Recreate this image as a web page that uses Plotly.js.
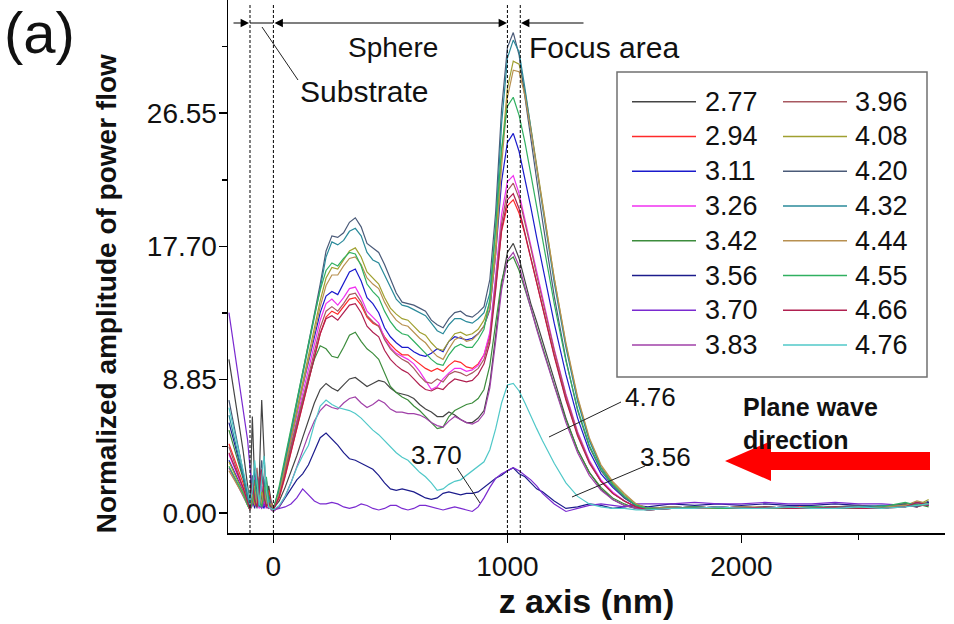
<!DOCTYPE html>
<html>
<head>
<meta charset="utf-8">
<script src="https://cdn.plot.ly/plotly-3.0.1.min.js"></script>
<style>html,body{margin:0;padding:0;background:#fff;}#chart{width:954px;height:624px;}</style>
</head>
<body>
<div id="chart"></div>
<script>
// z positions (nm)
const zAxis = [-190,-160,-130,-110,-100,-90,-80,-70,-60,-50,-40,-30,-20,-10,0,
  25,50,75,100,125,150,175,200,225,250,275,300,325,350,375,400,425,450,475,500,525,550,575,600,625,650,675,700,725,750,775,800,825,850,875,900,
  925,950,975,1000,1025,1050,1075,1100,1125,1150,1200,1250,1300,1350,1400,1450,1500,1550,1600,
  1700,1800,1900,2000,2100,2200,2300,2400,2500,2600,2700,2750,2800];

const seriesNames = ['2.77','2.94','3.11','3.26','3.42','3.56','3.70','3.83','3.96','4.08','4.20','4.32','4.44','4.55','4.66','4.76'];
const seriesColors = ['#444444','#ff2a2a','#1a1acc','#f030f0','#3c8c3c','#1c1c8c','#7a2ad0','#a040a8','#a85860','#a0a030','#4a5a78','#2a8a9a','#b89050','#30b060','#b02050','#50c8c8'];

const v277 = [10.2,7.2,4.2,1.8,0.5,6.4,2.0,0.5,2.5,7.5,3.5,0.6,1.8,0.8,0.3,
  0.8,1.7,2.7,3.8,5.0,6.2,7.3,8.2,8.6,8.3,8.1,8.5,8.9,9.0,8.7,8.4,8.6,8.8,8.7,8.3,8.0,7.9,7.8,7.6,7.2,6.9,6.7,6.4,6.4,6.7,6.5,6.2,6.0,6.0,6.3,6.8,
  8.6,11.8,15.2,17.3,17.9,16.9,15.4,13.9,12.7,11.4,8.8,6.3,4.2,2.7,1.6,0.9,0.5,0.3,0.2,
  0.3,0.4,0.3,0.4,0.3,0.3,0.4,0.3,0.4,0.4,0.6,0.5,0.7];
const v294 = [4.6,3.3,2.0,0.9,0.3,1.3,0.5,1.0,2.4,1.2,0.4,0.8,1.5,0.6,0.3,
  1.0,2.4,4.0,5.6,7.2,8.8,10.4,11.9,13.0,13.4,13.2,13.7,14.2,14.3,13.8,13.0,12.6,12.4,11.7,11.2,10.8,10.5,10.5,10.2,9.9,9.6,9.4,9.6,9.4,9.8,10.1,10.0,9.7,9.6,9.9,10.5,
  11.8,15.0,18.7,20.4,20.8,19.9,18.5,16.9,15.2,13.6,10.5,7.6,5.2,3.4,2.1,1.3,0.8,0.4,0.2,
  0.3,0.4,0.3,0.4,0.3,0.4,0.4,0.3,0.3,0.4,0.6,0.4,0.7];
const v311 = [3.5,2.5,1.5,0.6,0.2,1.0,0.4,1.2,2.0,0.6,0.3,1.4,0.6,0.4,0.3,
  1.3,3.0,4.8,6.6,8.4,10.1,11.8,13.3,14.4,14.7,14.5,15.2,16.0,16.2,15.4,14.3,13.9,13.3,12.3,11.7,11.3,11.0,11.0,10.7,10.5,10.4,10.6,10.9,10.7,11.4,11.7,11.6,11.5,11.6,11.9,12.4,
  13.5,17.2,22.0,24.6,25.2,24.0,22.2,20.3,18.3,16.4,12.6,9.2,6.3,4.1,2.6,1.7,1.0,0.5,0.3,
  0.4,0.3,0.3,0.4,0.3,0.4,0.3,0.3,0.4,0.3,0.5,0.4,0.7];
const v326 = [3.9,2.8,1.6,0.7,0.3,1.6,2.6,0.6,0.3,1.8,0.7,0.3,1.1,0.5,0.2,
  1.2,2.8,4.5,6.2,7.9,9.5,11.2,12.8,13.9,14.2,13.8,14.3,14.9,15.0,14.3,13.4,13.0,12.6,11.6,11.0,10.6,10.4,10.2,9.9,9.4,8.8,8.2,8.4,8.9,9.3,9.6,9.6,9.4,9.5,9.8,10.5,
  12.0,15.8,19.8,22.0,22.4,21.2,19.5,17.7,15.9,14.2,10.9,7.9,5.4,3.5,2.2,1.4,0.8,0.4,0.2,
  0.3,0.4,0.3,0.3,0.4,0.3,0.3,0.4,0.3,0.4,0.4,0.6,0.5];
const v342 = [5.5,3.9,2.3,1.0,0.3,1.1,2.2,1.4,0.5,1.0,2.0,1.2,0.4,0.3,0.2,
  1.3,2.9,4.5,6.0,7.5,8.9,10.2,11.1,10.9,10.4,10.3,11.0,11.8,12.0,11.4,10.9,10.6,10.2,9.3,8.4,8.0,7.7,7.5,7.1,6.8,6.4,6.0,5.6,5.7,6.4,6.8,7.0,7.2,7.3,7.6,8.2,
  9.8,12.6,15.4,16.7,17.0,16.1,14.9,13.6,12.3,11.0,8.5,6.2,4.2,2.7,1.7,1.0,0.6,0.3,0.2,
  0.3,0.4,0.3,0.3,0.4,0.3,0.4,0.3,0.4,0.3,0.5,0.6,0.4];
const v356 = [6.0,4.3,2.5,1.1,0.4,1.0,0.3,2.6,1.2,0.4,1.3,2.2,0.8,0.3,0.2,
  0.4,1.0,1.6,2.2,2.6,3.2,4.1,5.0,5.3,4.9,4.5,4.0,3.6,3.5,3.3,3.1,2.9,2.5,2.0,1.6,1.5,1.6,1.5,1.4,1.2,1.0,0.9,1.0,1.3,1.4,1.3,1.2,1.3,1.3,1.4,1.7,
  2.0,2.3,2.5,2.8,3.0,2.6,2.4,2.0,1.6,1.4,0.8,0.3,0.4,0.6,0.5,0.3,0.4,0.5,0.4,
  0.6,0.5,0.6,0.5,0.6,0.5,0.5,0.6,0.5,0.4,0.6,0.5,0.7];
const v370 = [13.3,10.2,7.0,4.8,3.0,1.5,0.5,1.2,0.5,0.3,0.6,0.4,0.3,0.5,0.2,
  0.3,0.4,0.6,1.0,1.6,1.2,0.8,0.6,0.6,0.7,0.6,0.4,0.3,0.4,0.6,0.5,0.3,0.2,0.3,0.5,0.5,0.3,0.2,0.3,0.5,0.5,0.4,0.3,0.2,0.3,0.4,0.3,0.2,0.1,0.4,1.0,
  1.7,2.3,2.6,2.8,3.0,2.8,2.5,2.2,1.8,1.3,0.6,0.1,0.3,0.5,0.6,0.5,0.4,0.6,0.6,
  0.6,0.7,0.6,0.6,0.7,0.6,0.6,0.7,0.6,0.6,0.5,0.7,0.6];
const v383 = [3.0,2.1,1.2,0.5,0.2,0.5,1.3,0.7,1.5,0.5,0.9,1.6,0.6,0.2,0.1,
  0.4,1.1,2.0,3.1,4.2,5.2,6.1,6.8,7.2,7.0,6.9,7.3,7.6,7.7,7.3,7.0,7.2,7.5,7.3,6.9,6.7,6.7,6.6,6.6,6.5,6.3,6.0,5.8,5.7,6.1,6.4,6.2,6.0,5.9,6.1,6.6,
  8.3,11.4,14.8,16.8,17.3,16.4,15.0,13.5,12.2,10.9,8.4,6.0,4.0,2.5,1.5,0.9,0.5,0.3,0.2,
  0.4,0.3,0.4,0.3,0.3,0.4,0.3,0.4,0.3,0.4,0.5,0.7,0.5];
const v396 = [4.4,3.1,1.8,0.8,0.3,0.8,1.9,3.0,1.0,0.4,1.5,0.9,0.3,0.8,0.4,
  1.2,2.7,4.3,5.9,7.5,9.2,10.8,12.3,13.4,13.7,13.4,13.9,14.5,14.6,14.0,13.1,12.7,12.4,11.5,10.9,10.5,10.2,10.0,9.6,9.1,8.7,8.6,8.9,8.7,9.2,9.4,9.3,9.1,9.3,9.6,10.2,
  11.6,15.2,19.2,21.4,21.9,20.9,19.3,17.6,15.8,14.1,10.8,7.8,5.3,3.4,2.1,1.3,0.8,0.4,0.2,
  0.4,0.3,0.4,0.3,0.3,0.4,0.3,0.4,0.4,0.3,0.5,0.4,0.6];
const v408 = [3.4,2.4,1.4,0.6,0.2,1.2,0.5,1.6,0.6,1.4,0.8,1.9,0.5,0.3,0.2,
  1.4,3.2,5.0,6.9,8.7,10.5,12.3,14.1,15.6,16.3,16.2,16.8,17.4,17.6,17.0,16.0,15.6,15.2,14.3,13.6,13.2,12.9,12.8,12.4,12.0,11.8,11.3,10.9,10.8,11.4,11.9,12.0,11.8,11.9,12.2,12.8,
  14.0,17.8,23.8,28.2,30.0,29.8,28.0,25.6,23.0,20.6,15.6,11.2,7.6,4.9,3.1,2.0,1.2,0.6,0.3,
  0.3,0.4,0.3,0.4,0.3,0.3,0.4,0.3,0.4,0.3,0.6,0.5,0.9];
const v420 = [7.5,5.2,2.8,1.2,0.4,2.5,1.0,0.3,2.0,3.5,1.5,0.5,1.2,0.6,0.3,
  1.6,3.5,5.4,7.3,9.3,11.2,13.2,15.2,17.4,18.4,18.3,18.6,19.3,19.6,19.0,17.9,17.6,17.3,16.5,15.6,14.6,14.0,13.9,13.8,13.6,13.4,12.8,12.5,12.3,12.9,13.3,13.4,13.1,13.0,13.3,13.7,
  15.5,20.0,26.8,30.9,31.9,30.4,27.6,24.8,22.0,19.4,14.4,10.2,6.8,4.4,2.8,1.8,1.0,0.5,0.3,
  0.3,0.4,0.3,0.4,0.3,0.4,0.3,0.4,0.5,0.4,0.6,0.4,0.8];
const v432 = [6.5,4.6,2.5,1.0,0.3,1.8,2.8,0.8,0.4,2.6,2.2,0.6,0.9,0.4,0.2,
  1.5,3.4,5.3,7.2,9.1,11.0,12.9,14.9,17.0,18.0,17.8,18.1,18.7,18.9,18.4,17.3,16.8,16.6,15.8,15.0,14.2,13.8,13.7,13.5,13.3,13.1,12.6,12.1,11.9,12.5,12.9,12.9,12.7,12.6,12.9,13.3,
  14.6,19.0,25.8,30.2,31.4,30.6,28.2,25.5,22.8,20.3,15.3,11.0,7.4,4.8,3.0,1.9,1.1,0.5,0.3,
  0.4,0.3,0.4,0.3,0.4,0.3,0.4,0.3,0.4,0.5,0.4,0.7,0.5];
const v444 = [2.8,2.0,1.2,0.5,0.2,0.9,1.8,0.5,1.2,0.6,1.7,0.7,0.4,0.6,0.3,
  1.3,3.0,4.8,6.6,8.4,10.2,12.0,13.7,15.1,15.8,15.8,16.4,16.9,17.0,16.5,15.6,15.2,14.9,14.0,13.3,12.8,12.5,12.4,12.0,11.6,11.3,10.8,10.4,10.2,10.9,11.5,11.7,11.4,11.5,11.9,12.4,
  13.6,17.2,23.0,27.6,29.4,29.3,27.7,25.4,22.9,20.5,15.6,11.3,7.7,5.0,3.2,2.1,1.3,0.6,0.3,
  0.4,0.3,0.3,0.4,0.4,0.3,0.3,0.4,0.3,0.4,0.5,0.8,0.6];
const v455 = [3.1,2.2,1.3,0.5,0.2,0.7,1.4,2.2,0.8,0.4,1.2,2.4,0.8,0.3,0.2,
  1.8,3.7,5.6,7.5,9.4,11.3,13.1,14.8,16.1,16.6,16.4,16.9,17.3,17.2,16.4,15.2,14.7,14.3,13.4,12.7,12.2,11.9,11.8,11.4,11.0,10.6,10.2,9.9,9.8,10.5,11.0,11.2,11.0,11.0,11.5,12.2,
  14.2,19.0,24.2,27.0,27.6,26.4,24.6,22.5,20.3,18.2,13.9,10.1,6.9,4.5,2.9,1.9,1.1,0.5,0.3,
  0.3,0.4,0.3,0.3,0.4,0.3,0.4,0.4,0.3,0.4,0.7,0.5,0.6];
const v466 = [4.0,2.9,1.7,0.7,0.2,2.0,0.8,0.4,1.6,2.9,1.0,0.4,0.7,0.3,0.2,
  1.1,2.5,4.1,5.7,7.3,8.9,10.5,11.9,12.9,13.1,12.8,13.3,13.8,13.9,13.3,12.4,12.0,11.7,10.8,10.2,9.8,9.5,9.3,8.9,8.5,8.2,8.1,8.3,8.2,8.6,8.9,8.8,8.7,8.8,9.2,9.9,
  11.3,14.8,18.8,20.8,21.2,20.2,18.6,16.9,15.2,13.6,10.4,7.5,5.1,3.3,2.1,1.3,0.8,0.4,0.2,
  0.3,0.3,0.4,0.3,0.4,0.3,0.3,0.4,0.3,0.3,0.4,0.7,0.5];
const v476 = [7.0,5.0,3.0,1.5,0.6,1.5,3.5,1.8,0.5,2.2,3.8,1.5,0.4,0.3,0.2,
  0.5,1.1,2.0,3.0,3.8,4.5,5.9,7.1,7.5,7.2,7.0,6.9,6.8,6.6,6.3,5.9,5.5,5.2,4.8,4.4,4.0,3.7,3.5,3.1,2.7,2.4,2.0,1.5,1.6,1.9,2.1,2.2,2.5,2.8,3.1,3.4,
  4.2,5.6,7.3,8.5,8.6,8.1,7.3,6.4,5.6,4.8,3.3,2.0,1.1,0.6,0.4,0.3,0.3,0.2,0.2,
  0.3,0.3,0.4,0.3,0.3,0.4,0.3,0.3,0.4,0.3,0.4,0.5,0.6];

const seriesValues = [v277,v294,v311,v326,v342,v356,v370,v383,v396,v408,v420,v432,v444,v455,v466,v476];

// axis ticks
const yTickVals = [0, 8.85, 17.70, 26.55];
const yTickText = ['0.00','8.85','17.70','26.55'];
const yMinorVals = [4.425, 13.275, 22.125, 30.975];
const xTickVals = [0, 1000, 2000];
const xTickText = ['0','1000','2000'];
const xMinorVals = [500, 1500, 2500];
const regionBounds = [-100, 0, 1000, 1055];

// plot-area pixel frame (for decorations)
const L = 228, R = 945, T = 0, B = 533;
const W = R - L, H = B - T;
function px(x){ return (x - L) / W; }
function py(y){ return (B - y) / H; }

const FONT = 'Liberation Sans, Arial, Helvetica, sans-serif';

const traces = seriesNames.map((n, i) => ({
  x: zAxis, y: seriesValues[i], type: 'scatter', mode: 'lines', name: n,
  line: {color: seriesColors[i], width: 1.2}, showlegend: false, hoverinfo: 'x+y+name'
}));

const shapes = [];
const annotations = [];

// dashed region boundaries
regionBounds.forEach(b => shapes.push({type:'line', xref:'x', yref:'paper', x0:b, x1:b, y0:0, y1:py(5),
  line:{color:'#000', width:1, dash:'3px,2px'}}));

// legend box
shapes.push({type:'rect', xref:'paper', yref:'paper', x0:px(617), x1:px(927), y0:py(72), y1:py(377),
  line:{color:'#707070', width:1.5}, fillcolor:'rgba(255,255,255,0)'});
seriesNames.forEach((n, i) => {
  const col = i < 8 ? 0 : 1, row = i % 8;
  const yy = 101.7 + row * 34.76;
  const x0 = col ? 783 : 632, x1 = col ? 847 : 696, xt = col ? 853 : 703;
  shapes.push({type:'line', xref:'paper', yref:'paper', x0:px(x0), x1:px(x1), y0:py(yy), y1:py(yy),
    line:{color:seriesColors[i], width:1.5}});
  annotations.push({xref:'paper', yref:'paper', x:px(xt), y:py(yy), text:n, showarrow:false,
    xanchor:'left', yanchor:'middle', font:{family:FONT, size:27, color:'#111'}});
});

// leader lines
[[262,27,298,80],[621,402,549,437],[645,466,572,497],[457,468,480,503]].forEach(s =>
  shapes.push({type:'line', xref:'paper', yref:'paper', x0:px(s[0]), y0:py(s[1]), x1:px(s[2]), y1:py(s[3]),
    line:{color:'#222', width:1}}));
// substrate horizontal bar
shapes.push({type:'line', xref:'paper', yref:'paper', x0:px(250), x1:px(273), y0:py(23), y1:py(23), line:{color:'#000', width:1}});

// red plane-wave arrow
const arrowPts = [[725,461],[771,441],[771,452],[930,452],[930,470],[771,470],[771,481]];
shapes.push({type:'path', xref:'paper', yref:'paper',
  path: 'M' + arrowPts.map(p => px(p[0]).toFixed(5) + ',' + py(p[1]).toFixed(5)).join(' L') + ' Z',
  fillcolor:'#ff0000', line:{width:0}});

// top arrows
function arrow(xh, xt, y, side){
  annotations.push({xref:'paper', yref:'paper', x:px(xh), y:py(y), ax:xt - xh, ay:0, axref:'pixel', ayref:'pixel',
    text:'', showarrow:true, arrowhead:2, arrowsize:1.4, arrowwidth:1.2, arrowcolor:'#000',
    arrowside: side || 'end', standoff:0, startstandoff:0});
}
arrow(249, 232, 23);
arrow(507, 273, 23, 'end+start');
arrow(521, 585, 23);

function txt(t, x, y, size, opts){
  annotations.push(Object.assign({xref:'paper', yref:'paper', x:px(x), y:py(y), text:t, showarrow:false,
    xanchor:'center', yanchor:'middle', font:{family:FONT, size:size, color:'#111'}}, opts||{}));
}
txt('(a)', 2, 33, 58, {xanchor:'left'});
txt('Sphere', 393, 47, 28);
txt('Substrate', 364, 92, 30);
txt('Focus area', 527, 47, 30, {xanchor:'left'});
txt('4.76', 650, 397, 26);
txt('3.56', 665, 457, 26);
txt('3.70', 436, 455, 26);
txt('<b>Plane wave</b><br><b>direction</b>', 741, 423, 25, {xanchor:'left', align:'left'});

const NB = '\u00a0';
const layout = {
  width: 954, height: 624,
  margin: {l: L, r: 954 - R, t: T, b: 624 - B},
  paper_bgcolor: '#fff', plot_bgcolor: '#fff',
  font: {family: FONT, color: '#111'},
  showlegend: false,
  xaxis: {
    range: [-194, 2870], showgrid: false, zeroline: false,
    showline: true, linecolor: '#000', linewidth: 1.5, mirror: false,
    ticks: 'outside', ticklen: 8, tickwidth: 1.5, tickcolor: '#000',
    tickvals: xTickVals, ticktext: xTickText, tickfont: {size: 28, family: FONT, color: '#111'},
    minor: {tickvals: xMinorVals, ticks: 'outside', ticklen: 5, tickwidth: 1.5, tickcolor: '#000'},
    title: {text: '<b>z axis (nm)</b>', font: {size: 34, family: FONT, color: '#111'}, standoff: 5}
  },
  yaxis: {
    range: [-1.33, 34.06], showgrid: false, zeroline: false,
    showline: true, linecolor: '#000', linewidth: 1.5, mirror: false,
    ticks: 'outside', ticklen: 8, tickwidth: 1.5, tickcolor: '#000',
    ticklabelstandoff: -4,
    tickvals: yTickVals, ticktext: yTickText, tickfont: {size: 28, family: FONT, color: '#111'},
    minor: {tickvals: yMinorVals, ticks: 'outside', ticklen: 5, tickwidth: 1.5, tickcolor: '#000'},
    title: {text: '<b>Normalized amplitude of power flow' + NB.repeat(7) + '</b>', font: {size: 28, family: FONT, color: '#111'}, standoff: 22}
  },
  shapes: shapes,
  annotations: annotations
};

Plotly.newPlot('chart', traces, layout, {staticPlot: true, displayModeBar: false});
</script>
</body>
</html>
